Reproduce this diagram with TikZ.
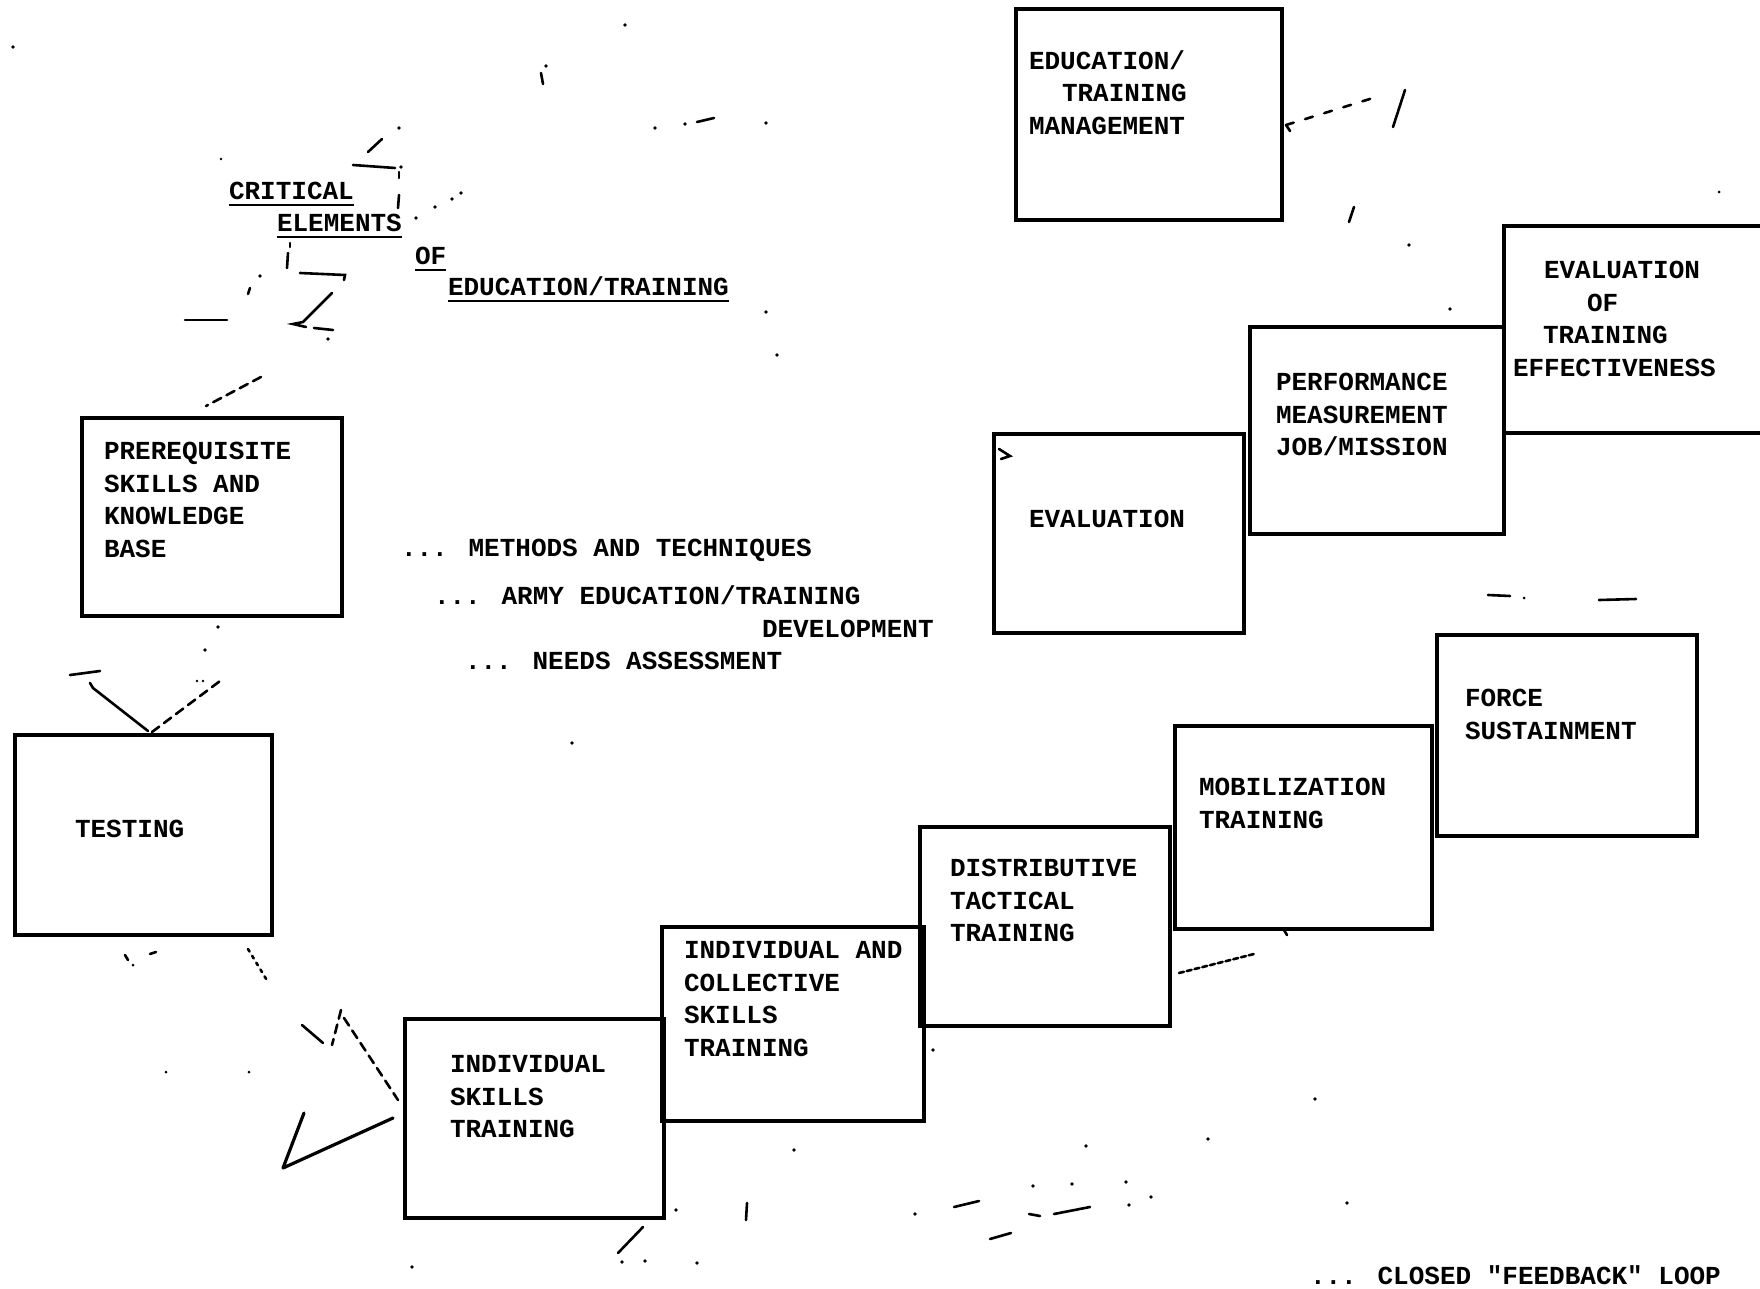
\documentclass[tikz,border=0pt]{standalone}
\usepackage{fontspec}
\newfontfamily\typewf{Liberation Mono}
\newcommand\lnhead{\rule{0pt}{20pt}}
\begin{document}
\begin{tikzpicture}[x=1pt,y=-1pt,
  box/.style={draw, line width=3.2pt, inner sep=0pt, outer sep=0pt, anchor=north west},
  lbl/.style={font=\typewf\bfseries\fontsize{26}{32.5}\selectfont, inner sep=0pt, outer sep=0pt, align=left, anchor=north west},
  ln/.style={font=\typewf\bfseries\fontsize{26}{32.5}\selectfont, inner sep=0pt, outer sep=0pt, anchor=base west},
  uline/.style={line width=2.4pt},
  frag/.style={line width=2.6pt, line cap=round},
  dfrag/.style={frag, dash pattern=on 9pt off 6pt},
  dotfrag/.style={frag, dash pattern=on 3pt off 5pt}
]
\path[use as bounding box, fill=white] (0,0) rectangle (1760,1289);
\clip (0,0) rectangle (1760,1289);

% ---------- title ----------
\node[ln] (crit) at (229,199.5) {CRITICAL};
\node[ln] (elem) at (277,231.5) {ELEMENTS};
\node[ln] (of)   at (415,264.5) {OF};
\node[ln] (edtr) at (448,295.5) {EDUCATION/TRAINING};
\foreach \n in {crit,elem,of,edtr}
  \draw[uline] ([yshift=-5.5pt]\n.base west) -- ([yshift=-5.5pt]\n.base east);

% ---------- boxes ----------
\node[box, minimum width=260pt, minimum height=198pt] (prereq) at (82,418) {};
\node[box, minimum width=257pt, minimum height=200pt] (testing) at (15,735) {};
\node[box, minimum width=259pt, minimum height=199pt] (ist) at (405,1019) {};
\node[box, minimum width=262pt, minimum height=194pt] (iacst) at (662,927) {};
\node[box, minimum width=250pt, minimum height=199pt] (dtt) at (920,827) {};
\node[box, minimum width=257pt, minimum height=203pt] (mob) at (1175,726) {};
\node[box, minimum width=260pt, minimum height=201pt] (force) at (1437,635) {};
\node[box, minimum width=250pt, minimum height=199pt] (evalb) at (994,434) {};
\node[box, minimum width=254pt, minimum height=207pt] (perf) at (1250,327) {};
\node[box, minimum width=300pt, minimum height=207pt] (effect) at (1504,226) {};
\node[box, minimum width=266pt, minimum height=211pt] (mgmt) at (1016,9) {};

% ---------- box labels ----------
\node[lbl] (prereqt) at (104,439.5) {\lnhead PREREQUISITE\\SKILLS AND\\KNOWLEDGE\\BASE};
\node[ln] (testingt) at (75,837.5) {TESTING};
\node[lbl] (istt) at (450,1052.5) {\lnhead INDIVIDUAL\\SKILLS\\TRAINING};
\node[lbl] (iacstt) at (684,938.5) {\lnhead INDIVIDUAL AND\\COLLECTIVE\\SKILLS\\TRAINING};
\node[lbl] (dttt) at (950,856.5) {\lnhead DISTRIBUTIVE\\TACTICAL\\TRAINING};
\node[lbl] (mobt) at (1199,775.5) {\lnhead MOBILIZATION\\TRAINING};
\node[lbl] (forcet) at (1465,686.5) {\lnhead FORCE\\SUSTAINMENT};
\node[ln] (evalt) at (1029,527.5) {EVALUATION};
\node[lbl] (perft) at (1276,370.5) {\lnhead PERFORMANCE\\MEASUREMENT\\JOB/MISSION};
\node[lbl] (effectt) at (1513,258.5) {\lnhead\hspace*{31pt}EVALUATION\\\hspace*{74pt}OF\\\hspace*{30pt}TRAINING\\EFFECTIVENESS};
\node[lbl] (mgmtt) at (1029,49.5) {\lnhead EDUCATION/\\\hspace*{33pt}TRAINING\\MANAGEMENT};

% ---------- running notes ----------
\node[ln] (meth) at (401,556.5) {... METHODS AND TECHNIQUES};
\node[ln] (army) at (434,604.5) {... ARMY EDUCATION/TRAINING};
\node[ln] (devel) at (762,637.5) {DEVELOPMENT};
\node[ln] (needs) at (465,669.5) {... NEEDS ASSESSMENT};
\node[ln] (loop) at (1310,1284.5) {... CLOSED "FEEDBACK" LOOP};

% ---------- remnants of the feedback loop ----------
% round the title
\fill (399,128) circle (1.8);
\draw[frag] (368,152) -- (382,139);
\draw[frag] (353,165) -- (395,168);
\fill (401,167) circle (1.8);
\draw[frag] (399,172) -- (399,178);
\draw[frag] (399,195) -- (398,208);
\foreach \p in {(416,218),(435,207),(452,199),(461,193),(260,276),(328,339)}
  \fill \p circle (1.8);
\fill (221,159) circle (1.3);
\draw[frag] (290,243) -- (290,247);
\draw[frag] (288,253) -- (287,268);
\draw[frag] (300,273) -- (345,275) -- (344,280);
\draw[frag] (250,288) -- (248,294);
\draw[frag] (332,293) -- (303,322) -- (293,324) -- (306,327);
\draw[frag] (314,328) -- (333,330);
\draw[frag] (185,320) -- (227,320);
\draw[dfrag] (261,377) -- (206,406);
% top edge
\foreach \p in {(655,128),(685,124),(766,123),(766,312),(777,355),(13,47),(625,25),(546,66)}
  \fill \p circle (1.8);
\draw[frag] (697,122) -- (714,118);
\draw[frag] (541,73) -- (543,84);
% between prerequisite box and testing
\fill (218,627) circle (1.8);
\fill (205,650) circle (1.8);
\draw[frag] (70,675) -- (100,671);
\draw[frag] (90,683) -- (93,688) -- (148,731);
\draw[dfrag] (152,732) -- (220,681);
\fill (197,681) circle (1.3);
\fill (203,681) circle (1.3);
% below testing
\draw[frag] (125,955) -- (128,960);
\fill (133,965) circle (1.5);
\draw[frag] (150,954) -- (156,952);
\draw[dotfrag] (248,949) -- (268,982);
\fill (166,1072) circle (1.5);
\fill (249,1072) circle (1.5);
% arrow head into the training stair
\draw[frag] (302,1025) -- (323,1043);
\draw[dfrag] (341,1010) -- (332,1045);
\draw[dfrag] (344,1018) -- (398,1100);
\draw[frag, line width=3.2pt, line join=round] (304,1113) -- (283,1168) -- (393,1118);
% below the stair
\draw[frag] (643,1227) -- (618,1253);
\foreach \p in {(622,1262),(645,1261),(697,1263),(676,1210),(412,1267),(794,1150),(915,1214),
                (1086,1146),(1208,1139),(1315,1099),(1347,1203),(1033,1186),(1072,1184),
                (1126,1182),(1151,1197),(1129,1205),(933,1050),(572,743)}
  \fill \p circle (1.8);
\draw[frag] (747,1203) -- (746,1220);
\draw[frag] (954,1207) -- (979,1201);
\draw[frag] (1029,1214) -- (1040,1216);
\draw[frag] (1054,1214) -- (1090,1207);
\draw[frag] (990,1239) -- (1011,1233);
% between distributive and mobilization boxes
\draw[dotfrag, dash pattern=on 5pt off 3pt] (1179,973) -- (1254,954);
\draw[frag] (1284,930) -- (1287,935);
% upper right
\draw[frag] (1290,131) -- (1286,125);
\draw[dfrag, dash pattern=on 8pt off 12pt] (1286,125) -- (1373,98);
\draw[frag] (1405,90) -- (1393,127);
\draw[frag] (1354,207) -- (1349,222);
\fill (1409,245) circle (1.8);
\fill (1450,309) circle (1.8);
\fill (1719,192) circle (1.5);
\draw[frag] (999,449) -- (1010,456) -- (1001,459);
\draw[frag] (1488,595) -- (1510,596);
\fill (1524,598) circle (1.5);
\draw[frag] (1599,600) -- (1636,599);
\end{tikzpicture}
\end{document}
